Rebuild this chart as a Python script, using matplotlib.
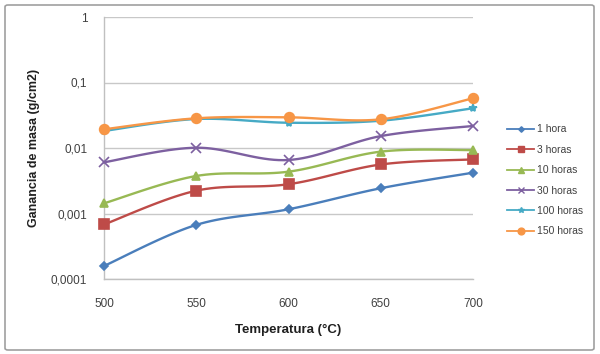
import numpy as np
import matplotlib
matplotlib.use("Agg")
import matplotlib.pyplot as plt
from matplotlib.patches import FancyBboxPatch
from matplotlib.lines import Line2D

temps = [500, 550, 600, 650, 700]
labels = ["1 hora", "3 horas", "10 horas", "30 horas", "100 horas", "150 horas"]
h1 = [0.000158, 0.00067, 0.00116, 0.00243, 0.0042]
h3 = [0.00068, 0.00223, 0.0028, 0.0056, 0.0067]
h10 = [0.00143, 0.00374, 0.00435, 0.0088, 0.0093]
h30 = [0.00605, 0.0101, 0.00656, 0.0152, 0.0217]
h100 = [0.0182, 0.0277, 0.0243, 0.0261, 0.0404]
h150 = [0.0193, 0.0284, 0.0294, 0.0274, 0.0574]
series = [h1, h3, h10, h30, h100, h150]
colors = ["#4A7EBB", "#BE4B48", "#98B954", "#7D60A0", "#46AAC5", "#F79646"]
markers = ["D", "s", "^", "x", "*", "o"]
msizes = [4, 7, 6, 7, 6, 7]

plt.rcParams['font.family'] = ['Liberation Sans', 'DejaVu Sans']

fig = plt.figure(figsize=(6, 3.54), dpi=100)
W, H = 600, 354
border = FancyBboxPatch((5/W, 4/H), 589/W, 345/H, boxstyle="round,pad=0,rounding_size=0.005",
                        transform=fig.transFigure, fill=False, edgecolor="#A0A0A0", linewidth=1.2)
fig.patches.append(border)

ax = fig.add_axes([104/W, 1 - 279/H, (473-104)/W, (279-17)/H])
ax.set_yscale('log')
ax.set_ylim(0.0001, 1)
ax.set_xlim(500, 700)


def smooth(xs, ys, n=20):
    # Catmull-Rom smoothing in (x, log y) space, like spreadsheet smoothed lines
    x = np.array(xs, float)
    y = np.log10(np.array(ys, float))
    P = np.column_stack([x, y])
    P = np.vstack([P[0], P, P[-1]])
    out = []
    for i in range(1, len(P) - 2):
        p0, p1, p2, p3 = P[i-1], P[i], P[i+1], P[i+2]
        t = np.linspace(0, 1, n)[:, None]
        c = 0.5 * ((2*p1) + (-p0 + p2)*t + (2*p0 - 5*p1 + 4*p2 - p3)*t**2 + (-p0 + 3*p1 - 3*p2 + p3)*t**3)
        out.append(c if i == 1 else c[1:])
    c = np.vstack(out)
    return c[:, 0], 10**c[:, 1]

for ys, lab, col, mk, ms in zip(series, labels, colors, markers, msizes):
    sx, sy = smooth(temps, ys)
    ax.plot(sx, sy, color=col, linewidth=1.7, zorder=3, clip_on=False)
    ax.plot(temps, ys, linestyle='none', marker=mk, color=col, markersize=ms,
            markeredgewidth=1.2, zorder=4, clip_on=False)

handles = [Line2D([], [], color=c, linewidth=1.3, marker=m, markersize=s*0.7, markeredgewidth=1)
           for c, m, s in zip(colors, markers, msizes)]
fig.legend(handles, labels, loc='upper left', bbox_to_anchor=(498/W, 1 - 115/H), frameon=False,
           fontsize=7.5, handlelength=2.6, handletextpad=0.2, labelspacing=1.0,
           labelcolor="#404040")

ax.set_yticks([0.0001, 0.001, 0.01, 0.1, 1])
ax.set_yticklabels(["0,0001", "0,001", "0,01", "0,1", "1"])
ax.yaxis.set_minor_locator(matplotlib.ticker.NullLocator())
ax.set_xticks(temps)
ax.set_xticklabels([str(t) for t in temps])
ax.tick_params(axis='both', length=0, labelsize=8.5, colors="#404040")
ax.tick_params(axis='x', pad=14)
ax.tick_params(axis='y', pad=12)
ax.grid(True, axis='y', color="#C8C8C8", linewidth=1)
ax.set_axisbelow(True)
for s in ['top', 'right']:
    ax.spines[s].set_visible(False)
for s in ['left', 'bottom']:
    ax.spines[s].set_color("#C0C0C0")
    ax.spines[s].set_linewidth(1)

ax.set_xlabel("Temperatura (°C)", fontsize=9.5, fontweight='bold', labelpad=10, color="#202020")
ax.set_ylabel("Ganancia de masa (g/cm2)", fontsize=9, fontweight='bold', labelpad=8, color="#202020")

fig.savefig("out.png", dpi=100)
